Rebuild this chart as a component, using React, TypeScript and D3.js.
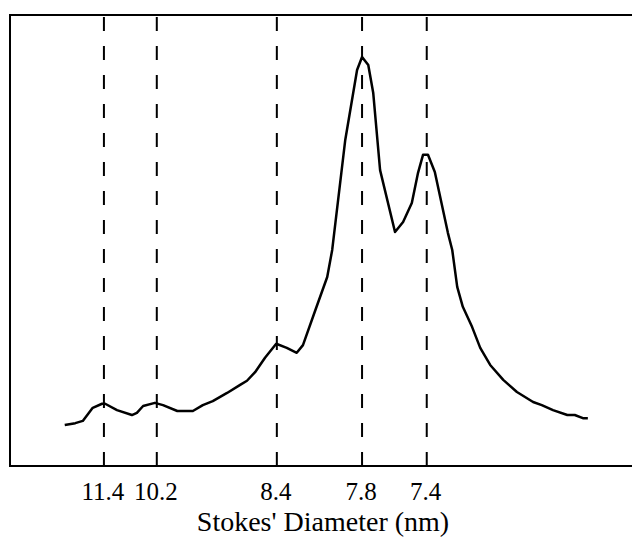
import React, { useEffect, useRef } from 'react';
import * as d3 from 'd3';

// elution position (arbitrary units, 0-100 across the frame) and absorbance (%)
const elution = [
  8.8, 10.5, 11.7, 13.3, 14.8, 15.3, 17.2, 19.6, 20.4, 21.4, 23.3, 24.6, 26.9, 29.4,
  31.0, 32.6, 34.9, 37.0, 38.1, 39.4, 41.0, 42.8, 44.5, 46.1, 47.1, 49.0, 51.0, 51.8,
  53.9, 55.8, 56.6, 57.6, 58.4, 59.5, 61.9, 63.2, 64.6, 65.6, 66.4, 67.2, 68.3, 70.4,
  71.1, 71.9, 72.8, 74.3, 75.6, 77.2, 79.3, 81.5, 84.1, 85.5, 87.3, 89.6, 90.8, 92.1, 92.9,
];
const absorbance = [
  9.1, 9.5, 10.0, 12.9, 13.8, 13.8, 12.4, 11.3, 11.8, 13.3, 14.0, 13.5, 12.2, 12.2,
  13.5, 14.4, 16.2, 18.0, 18.9, 20.8, 24.0, 27.1, 26.2, 25.1, 26.8, 34.2, 41.9, 47.9,
  72.3, 87.8, 90.7, 88.9, 82.7, 65.6, 51.9, 54.1, 58.3, 65.0, 69.0, 69.0, 65.2, 51.7,
  47.9, 39.7, 35.3, 30.8, 26.2, 22.4, 19.1, 16.4, 14.2, 13.5, 12.4, 11.3, 11.3, 10.6, 10.6,
];

// marker lines: position on the elution axis and the Stokes' diameter label
const markerPos = [15.1, 23.6, 42.9, 56.6, 67.0];
const markerLabels = ['11.4', '10.2', '8.4', '7.8', '7.4'];

const font = "'Liberation Serif', 'Times New Roman', serif";

export default function App() {
  const ref = useRef<SVGSVGElement>(null);

  useEffect(() => {
    const svg = d3.select(ref.current);
    svg.selectAll('*').remove();

    const left = 10, right = 632, top = 15, bottom = 466;
    const x = d3.scaleLinear().domain([0, 100]).range([left, right]);
    const y = d3.scaleLinear().domain([0, 100]).range([bottom, top]);

    // frame (open on the right, it runs off the picture)
    svg.append('path')
      .attr('d', `M${right + 10},${top}H${left}V${bottom}H${right + 10}`)
      .attr('fill', 'none')
      .attr('stroke', '#000')
      .attr('stroke-width', 2);

    // dashed marker lines, drawn from the bottom up
    svg.selectAll('.marker')
      .data(markerPos)
      .enter()
      .append('line')
      .attr('class', 'marker')
      .attr('x1', d => x(d))
      .attr('x2', d => x(d))
      .attr('y1', bottom)
      .attr('y2', top)
      .attr('stroke', '#000')
      .attr('stroke-width', 2)
      .attr('stroke-dasharray', '14,15');

    const pts = elution.map((e, i) => [e, absorbance[i]] as [number, number]);
    const line = d3.line<[number, number]>()
      .x(d => x(d[0]))
      .y(d => y(d[1]));

    svg.append('path')
      .datum(pts)
      .attr('d', line)
      .attr('fill', 'none')
      .attr('stroke', '#000')
      .attr('stroke-width', 2.5)
      .attr('stroke-linejoin', 'round');

    svg.selectAll('.tickLabel')
      .data(markerPos)
      .enter()
      .append('text')
      .attr('class', 'tickLabel')
      .attr('x', d => x(d) - 1)
      .attr('y', 500)
      .attr('text-anchor', 'middle')
      .attr('font-family', font)
      .attr('font-size', 25)
      .text((d, i) => markerLabels[i]);

    svg.append('text')
      .attr('x', 323)
      .attr('y', 531)
      .attr('text-anchor', 'middle')
      .attr('font-family', font)
      .attr('font-size', 28)
      .text("Stokes' Diameter (nm)");
  }, []);

  return (
    <svg
      ref={ref}
      width={632}
      height={540}
      style={{ position: 'absolute', left: 0, top: 0, background: '#fff' }}
    />
  );
}
